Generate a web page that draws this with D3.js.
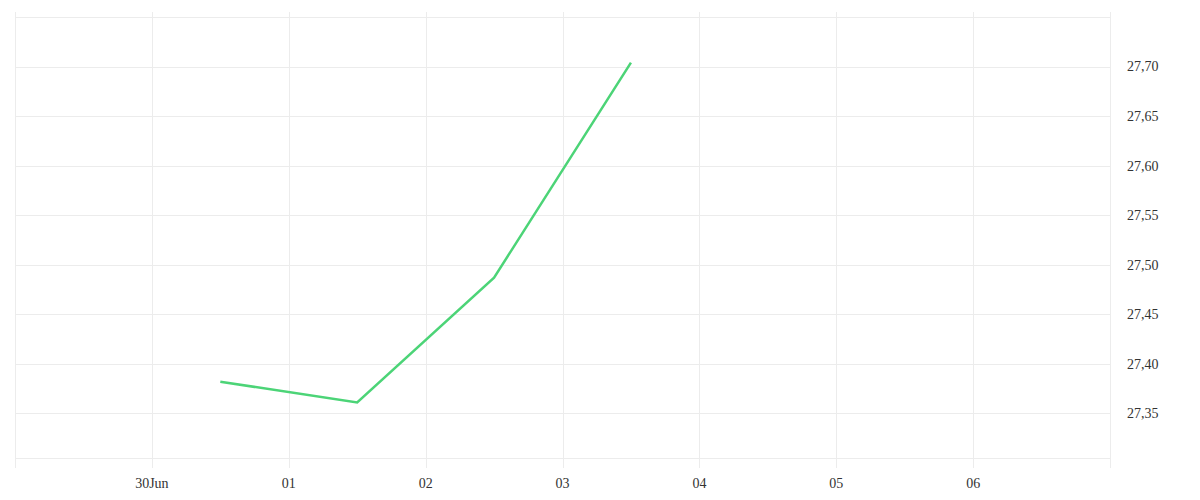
<!DOCTYPE html>
<html>
<head>
<meta charset="utf-8">
<script src="https://cdn.jsdelivr.net/npm/d3@7"></script>
<style>
  body { margin: 0; background: #fff; }
  text { font-family: "Liberation Serif", "DejaVu Serif", serif; }
</style>
</head>
<body>
<div id="chart"></div>
<script>
// data
var dates = ["2020-06-30T12:00", "2020-07-01T12:00", "2020-07-02T12:00", "2020-07-03T12:00"];
var values = [27.382, 27.361, 27.487, 27.704];
var xTickDates = ["2020-06-30", "2020-07-01", "2020-07-02", "2020-07-03", "2020-07-04", "2020-07-05", "2020-07-06"];
var xTickLabels = ["30Jun", "01", "02", "03", "04", "05", "06"];
var yTicks = [27.35, 27.40, 27.45, 27.50, 27.55, 27.60, 27.65, 27.70];
var yGrid = [27.35, 27.40, 27.45, 27.50, 27.55, 27.60, 27.65, 27.70, 27.75];

var W = 1200, H = 500;
var plotLeft = 15, plotRight = 1110, plotTop = 17, plotBottom = 458;

var parse = d3.isoParse;
var data = dates.map(function(d, i) { return {date: parse(d), value: values[i]}; });

var x = d3.scaleTime()
  .domain([parse("2020-06-29"), parse("2020-07-07")])
  .range([plotLeft, plotRight]);

var y = d3.scaleLinear()
  .domain([27.305, 27.75])
  .range([plotBottom, plotTop]);

var svg = d3.select("#chart").append("svg")
  .attr("width", W)
  .attr("height", H);

var grid = svg.append("g").attr("stroke", "#ececec").attr("stroke-width", 1);

// horizontal grid
grid.selectAll(".hg")
  .data(yGrid.concat([27.305]))
  .enter().append("line")
  .attr("x1", plotLeft).attr("x2", plotRight)
  .attr("y1", function(d) { return Math.round(y(d)) + 0.5; })
  .attr("y2", function(d) { return Math.round(y(d)) + 0.5; });

// vertical grid (incl. edges)
var vx = [parse("2020-06-29")].concat(xTickDates.map(parse)).concat([parse("2020-07-07")]);
grid.selectAll(".vg")
  .data(vx)
  .enter().append("line")
  .attr("x1", function(d) { return Math.round(x(d)) + 0.5; })
  .attr("x2", function(d) { return Math.round(x(d)) + 0.5; })
  .attr("y1", plotTop - 5)
  .attr("y2", plotBottom + 10);

// x labels
svg.append("g").selectAll("text")
  .data(xTickDates)
  .enter().append("text")
  .attr("x", function(d) { return x(parse(d)); })
  .attr("y", 488)
  .attr("text-anchor", "middle")
  .style("font-size", "14px")
  .style("fill", "#333")
  .text(function(d, i) { return xTickLabels[i]; });

// y labels
var fmt = d3.format(".2f");
svg.append("g").selectAll("text")
  .data(yTicks)
  .enter().append("text")
  .attr("x", 1127)
  .attr("y", function(d) { return y(d); })
  .attr("dy", "0.35em")
  .style("font-size", "14px")
  .style("fill", "#333")
  .text(function(d) { return fmt(d).replace(".", ","); });

// line
var line = d3.line()
  .x(function(d) { return x(d.date); })
  .y(function(d) { return y(d.value); });

svg.append("path")
  .datum(data)
  .attr("fill", "none")
  .attr("stroke", "#4cd477")
  .attr("stroke-width", 2.5)
  .attr("d", line);
</script>
</body>
</html>
